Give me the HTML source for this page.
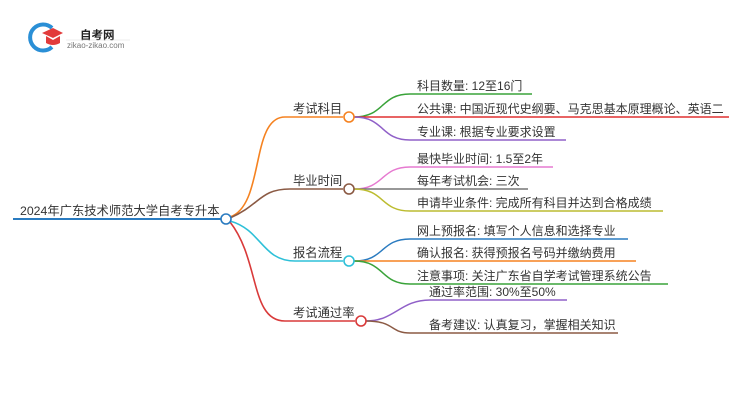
<!DOCTYPE html>
<html><head><meta charset="utf-8"><style>
html,body{margin:0;padding:0;background:#fff;width:750px;height:410px;overflow:hidden}
svg{display:block}
text{font-family:"Liberation Sans","Noto Sans CJK SC",sans-serif;fill:#333}
</style></head><body>
<svg width="750" height="410" viewBox="0 0 750 410" xmlns="http://www.w3.org/2000/svg">
<!-- logo -->
<path d="M52 28 A13 13 0 1 0 52 47" fill="none" stroke="#2a8fd6" stroke-width="4"/>
<path d="M42 33 L53 28 L63 33 L53 38 Z" fill="#e23b3b"/>
<path d="M46 36 L46 43 Q53 47 60 43 L60 36 L53 40 Z" fill="#e23b3b"/>
<text x="80" y="39" font-size="11.5" font-weight="bold" style="fill:#222">自考网</text>
<line x1="66" y1="40" x2="130" y2="40" stroke="#ddd" stroke-width="0.6"/>
<text x="67" y="48" font-size="8" style="fill:#777">zikao-zikao.com</text>

<!-- root -->
<line x1="13" y1="219" x2="221" y2="219" stroke="#2a7bc0" stroke-width="2"/>
<text x="20" y="215" font-size="12.3">2024年广东技术师范大学自考专升本</text>

<!-- main branches -->
<g fill="none" stroke-width="1.6">
<path d="M230 217 C265 205 250 117 285 117 L343 117" stroke="#f58220"/>
<path d="M230 218 C260 205 260 189 290 189 L343 189" stroke="#8b5a44"/>
<path d="M230 221 C262 230 262 261 295 261 L343 261" stroke="#2ec0d8"/>
<path d="M230 222 C260 260 250 321 285 321 L355 321" stroke="#d93a3a"/>
</g>
<circle cx="226" cy="219" r="5" fill="#fff" stroke="#2a7bc0" stroke-width="1.6"/>
<g font-size="12.3">
<text x="293" y="113">考试科目</text>
<text x="293" y="185">毕业时间</text>
<text x="293" y="257">报名流程</text>
<text x="293" y="317">考试通过率</text>
</g>

<!-- leaves -->
<g fill="none" stroke-width="1.5">
<path d="M354 117 C385 117 380 94 410 94 L532 94" stroke="#3aa33a"/>
<path d="M354 117 L729 117" stroke="#e03030"/>
<path d="M354 117 C385 117 380 140 410 140 L566 140" stroke="#9060c8"/>
<path d="M354 189 C385 189 380 167 410 167 L553 167" stroke="#e67ad0"/>
<path d="M354 189 L528 189" stroke="#777"/>
<path d="M354 189 C385 189 380 211 410 211 L663 211" stroke="#bcbc30"/>
<path d="M354 261 C385 261 380 239 410 239 L628 239" stroke="#2a7bc0"/>
<path d="M354 261 L636 261" stroke="#f58220"/>
<path d="M354 261 C385 261 380 284 410 284 L668 284" stroke="#3aa33a"/>
<path d="M366 321 C395 321 400 300 430 300 L567 300" stroke="#9060c8"/>
<path d="M366 321 C395 321 390 333 410 333 L618 333" stroke="#8b5a44"/>
</g>
<circle cx="349" cy="117" r="5" fill="#fff" stroke="#f58220" stroke-width="1.6"/>
<circle cx="349" cy="189" r="5" fill="#fff" stroke="#8b5a44" stroke-width="1.6"/>
<circle cx="349" cy="261" r="5" fill="#fff" stroke="#2ec0d8" stroke-width="1.6"/>
<circle cx="361" cy="321" r="5" fill="#fff" stroke="#d93a3a" stroke-width="1.6"/>

<g font-size="12">
<text x="417" y="90">科目数量: 12至16门</text>
<text x="417" y="113">公共课: 中国近现代史纲要、马克思基本原理概论、英语二</text>
<text x="417" y="136">专业课: 根据专业要求设置</text>
<text x="417" y="163">最快毕业时间: 1.5至2年</text>
<text x="417" y="185">每年考试机会: 三次</text>
<text x="417" y="207">申请毕业条件: 完成所有科目并达到合格成绩</text>
<text x="417" y="235">网上预报名: 填写个人信息和选择专业</text>
<text x="417" y="257">确认报名: 获得预报名号码并缴纳费用</text>
<text x="417" y="280">注意事项: 关注广东省自学考试管理系统公告</text>
<text x="429" y="296">通过率范围: 30%至50%</text>
<text x="429" y="329">备考建议: 认真复习，掌握相关知识</text>
</g>
</svg>
</body></html>
